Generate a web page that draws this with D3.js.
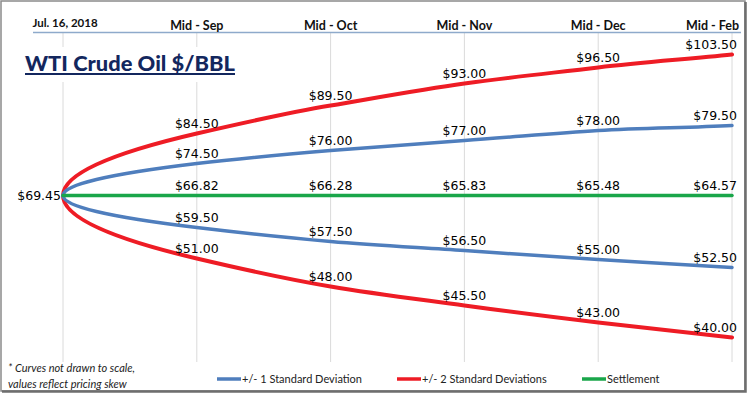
<!DOCTYPE html>
<html>
<head>
<meta charset="utf-8">
<script src="https://cdn.jsdelivr.net/npm/d3@7"></script>
<style>
  html, body { margin: 0; padding: 0; background: #fff; }
  svg { display: block; }
</style>
</head>
<body>
<svg id="chart" width="748" height="398"></svg>
<script>
// header ticks
const months = ["Jul. 16, 2018", "Mid - Sep", "Mid - Oct", "Mid - Nov", "Mid - Dec", "Mid - Feb"];

// price labels per series (first month = spot)
const spot = 69.45;
const up2Labels = [84.50, 89.50, 93.00, 96.50, 103.50];
const up1Labels = [74.50, 76.00, 77.00, 78.00, 79.50];
const settleLabels = [66.82, 66.28, 65.83, 65.48, 64.57];
const dn1Labels = [59.50, 57.50, 56.50, 55.00, 52.50];
const dn2Labels = [51.00, 48.00, 45.50, 43.00, 40.00];

// drawn curve level (not to scale, offset from spot as drawn)
const up2Curve = [0, 62, 90, 112, 128, 141];
const up1Curve = [0, 32, 45, 55, 65, 70];
const settleCurve = [0, 0, 0, 0, 0, 0];
const dn1Curve = [0, -32, -46, -55, -64, -72];
const dn2Curve = [0, -63, -91, -110, -127, -142];

const legendNames = ["+/- 1 Standard Deviation", "+/- 2 Standard Deviations", "Settlement"];

const blue = "#4f7ebd", red = "#ee1c25", green = "#1aa64a";

const svg = d3.select("#chart");

const x = d3.scalePoint().domain(months).range([63, 732]);
const y = d3.scaleLinear().domain([-150, 150]).range([345.5, 45.5]);

// frame
svg.append("rect")
    .attr("x", 1).attr("y", 1)
    .attr("width", 744).attr("height", 390)
    .attr("fill", "#fff")
    .attr("stroke", "#8a8a8a")
    .attr("stroke-width", 1.5);
svg.append("path")
    .attr("d", "M745.5,2V391.5H2")
    .attr("fill", "none")
    .attr("stroke", "#6e6e6e")
    .attr("stroke-width", 2.5);

// vertical grid
svg.append("g")
  .selectAll("line")
  .data(months)
  .enter().append("line")
    .attr("x1", d => x(d)).attr("x2", d => x(d))
    .attr("y1", 33).attr("y2", 362)
    .attr("stroke", "#dadada")
    .attr("stroke-width", 1);

// header rule
svg.append("line")
    .attr("x1", 33).attr("x2", 741)
    .attr("y1", 32.5).attr("y2", 32.5)
    .attr("stroke", "#8eaacb")
    .attr("stroke-width", 1.5);

// header labels
svg.append("g")
  .selectAll("text")
  .data(months)
  .enter().append("text")
    .attr("x", (d, i) => i == months.length - 1 ? 739 : x(d) + (i == 0 ? 2 : 0))
    .attr("y", (d, i) => i == 0 ? 27 : 30)
    .attr("text-anchor", (d, i) => i == months.length - 1 ? "end" : "middle")
    .attr("font-family", "Lato, sans-serif")
    .attr("font-weight", "bold")
    .attr("font-size", (d, i) => i == 0 ? 11.5 : 12.5)
    .attr("fill", "#111")
    .text(d => d);

// title with white box over the grid
svg.append("rect")
    .attr("x", 20).attr("y", 47)
    .attr("width", 222).attr("height", 35)
    .attr("fill", "#fff");
svg.append("text")
    .attr("x", 25).attr("y", 71)
    .attr("font-family", "Lato, sans-serif")
    .attr("font-weight", "900")
    .attr("font-size", 21)
    .attr("textLength", 210)
    .attr("lengthAdjust", "spacingAndGlyphs")
    .attr("fill", "#13275e")
    .text("WTI Crude Oil $/BBL");
svg.append("line")
    .attr("x1", 25).attr("x2", 235)
    .attr("y1", 74).attr("y2", 74)
    .attr("stroke", "#13275e")
    .attr("stroke-width", 2);

// curve: parabola out of the spot point, then smooth hermite
function curvePath(pts) {
    let p = d3.path();
    let [x0, y0] = pts[0];
    let slope = i => (pts[i][1] - y0) / (2 * (pts[i][0] - x0));
    p.moveTo(x0, y0);
    let [x1, y1] = pts[1];
    p.bezierCurveTo(x0, y0 + (y1 - y0) / 3, x0 + (x1 - x0) / 3, y0 + 2 * (y1 - y0) / 3, x1, y1);
    for (let i = 1; i < pts.length - 1; i++) {
        let [xa, ya] = pts[i], [xb, yb] = pts[i + 1];
        let dx = xb - xa;
        p.bezierCurveTo(xa + dx / 3, ya + slope(i) * dx / 3, xb - dx / 3, yb - slope(i + 1) * dx / 3, xb, yb);
    }
    return p.toString();
}

const series = [
    {curve: up2Curve, labels: up2Labels, color: red, width: 4},
    {curve: dn2Curve, labels: dn2Labels, color: red, width: 4},
    {curve: up1Curve, labels: up1Labels, color: blue, width: 3.5},
    {curve: dn1Curve, labels: dn1Labels, color: blue, width: 3.5},
    {curve: settleCurve, labels: settleLabels, color: green, width: 3.5}
];

series.forEach(s => {
    let pts = s.curve.map((v, i) => [x(months[i]), y(v)]);
    svg.append("path")
        .attr("d", curvePath(pts))
        .attr("fill", "none")
        .attr("stroke", s.color)
        .attr("stroke-width", s.width)
        .attr("stroke-linecap", "round");
});

// value labels
series.forEach(s => {
    svg.append("g")
      .selectAll("text")
      .data(s.labels)
      .enter().append("text")
        .attr("x", (d, i) => i == s.labels.length - 1 ? 737 : x(months[i + 1]))
        .attr("y", (d, i) => y(s.curve[i + 1]) - 6)
        .attr("text-anchor", (d, i) => i == s.labels.length - 1 ? "end" : "middle")
        .attr("font-family", "DejaVu Sans, sans-serif")
        .attr("font-size", 12.5)
        .attr("fill", "#000")
        .text(d => "$" + d3.format(".2f")(d));
});

svg.append("text")
    .attr("x", 61).attr("y", y(0) + 4.5)
    .attr("text-anchor", "end")
    .attr("font-family", "DejaVu Sans, sans-serif")
    .attr("font-size", 12.5)
    .attr("fill", "#000")
    .text("$" + d3.format(".2f")(spot));

// footnote
svg.append("text")
    .attr("x", 8).attr("y", 372)
    .attr("font-family", "Lato, sans-serif")
    .attr("font-style", "italic")
    .attr("font-size", 11)
    .attr("fill", "#222")
    .text("* Curves not drawn to scale,");
svg.append("text")
    .attr("x", 8).attr("y", 388)
    .attr("font-family", "Lato, sans-serif")
    .attr("font-style", "italic")
    .attr("font-size", 11)
    .attr("fill", "#222")
    .text("values reflect pricing skew");

// legend
const legendX = [217, 397, 582];
const legendColors = [blue, red, green];
const lg = svg.append("g")
  .selectAll("g")
  .data(legendNames)
  .enter().append("g")
    .attr("transform", (d, i) => `translate(${legendX[i]},379)`);
lg.append("line")
    .attr("x1", 0).attr("x2", 24)
    .attr("stroke", (d, i) => legendColors[i])
    .attr("stroke-width", 3.5);
lg.append("text")
    .attr("x", 25).attr("y", 4)
    .attr("font-family", "Lato, sans-serif")
    .attr("font-size", 11)
    .attr("fill", "#222")
    .text(d => d);
</script>
</body>
</html>
